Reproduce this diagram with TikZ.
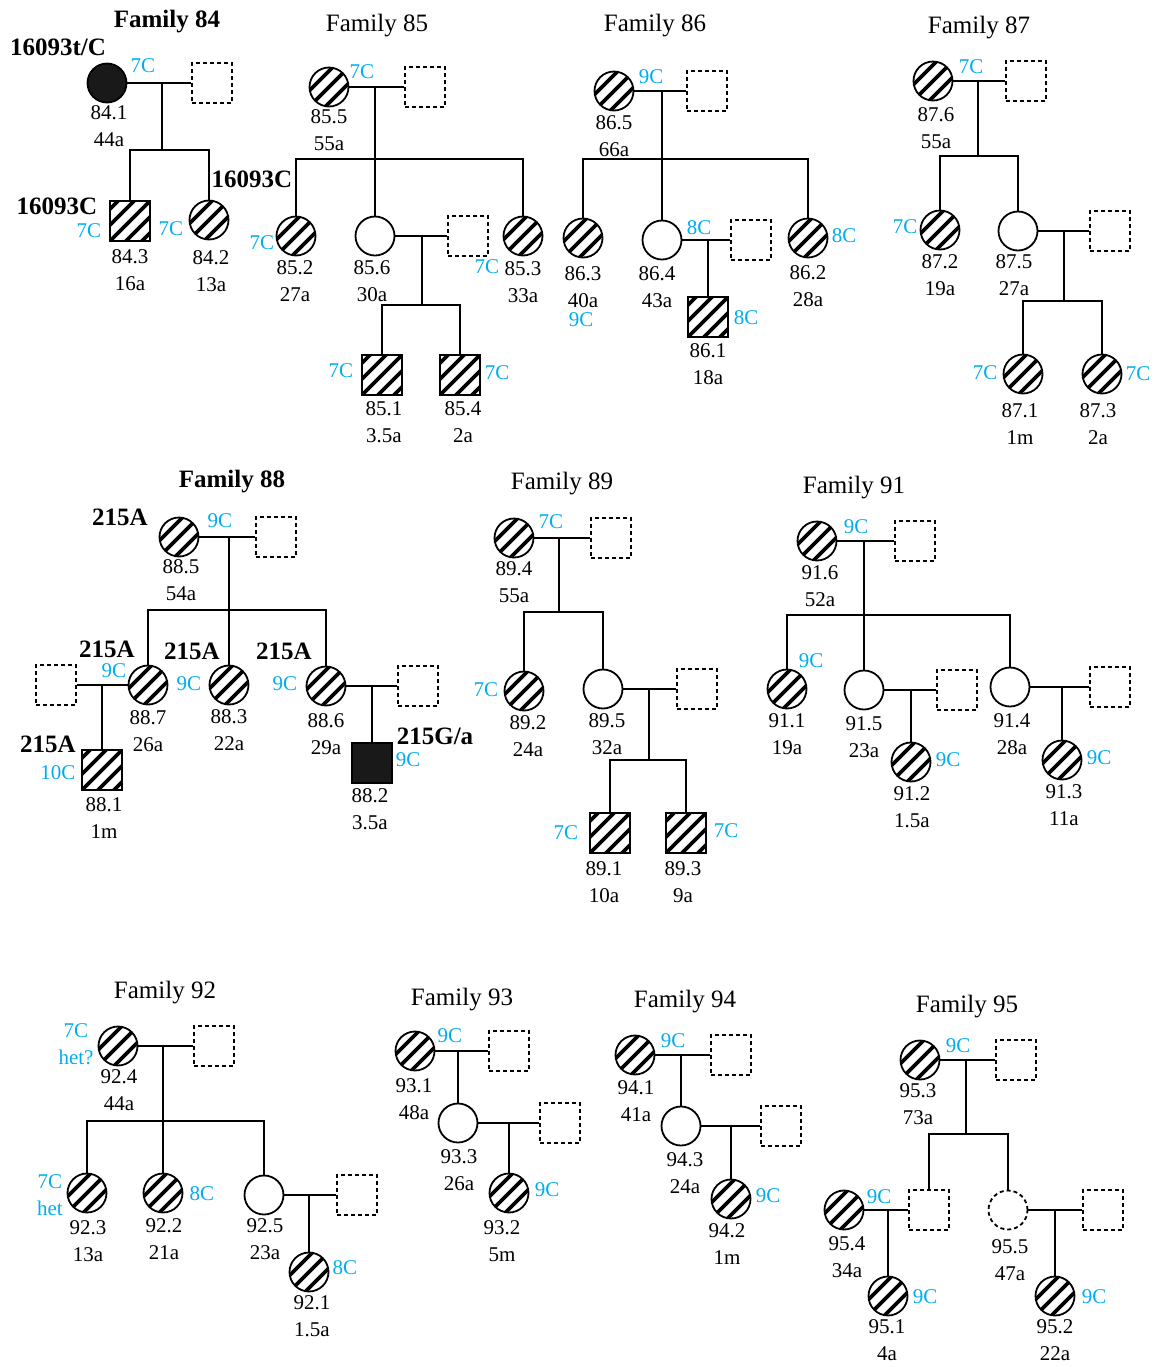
\documentclass[tikz,border=0pt]{standalone}
\usepackage{fontspec}
\setmainfont{Liberation Serif}
\usetikzlibrary{positioning}
\definecolor{gblue}{RGB}{0,174,239}
\tikzset{
	ind/.style={draw, inner sep=0pt},
	fem/.style={ind, circle, minimum size=19.5pt},
	mal/.style={ind, rectangle, minimum size=20pt},
	hatch/.style={path picture={
			\foreach \k in {-3,...,3}
			\draw[line width=1.8pt, solid] ([shift={(\k*8pt-20pt,-20pt)}]path picture bounding box.center) -- ++(40pt,40pt);
	}},
	afem/.style={fem, hatch},
	amal/.style={mal, hatch},
	bfem/.style={fem, fill=black!90},
	bmal/.style={mal, fill=black!90},
	ext/.style={mal, line width=0.9pt, dash pattern=on 2pt off 1.5pt},
	extf/.style={fem, line width=0.9pt, dash pattern=on 2pt off 1.5pt},
	idl/.style={font=\fontsize{10.5}{13.5}\selectfont, align=center, inner sep=0pt},
	gl/.style={text=gblue, font=\fontsize{10.5}{13.5}\selectfont, align=center, inner sep=0pt},
	mut/.style={font=\fontsize{12.5}{14}\selectfont\bfseries, inner sep=0pt},
	fam/.style={font=\fontsize{12.5}{14}\selectfont, inner sep=0pt}
}
\begin{document}
\begin{tikzpicture}[x=0.5pt, y=-0.5pt, line width=0.9pt]
	\useasboundingbox (0,0) rectangle (1158,1367);
	
	\node[mut] (f84) at (167,22) {Family 84};
	\node[mut] (g841) at (58,47) {16093t/C};
	\node[bfem] (p841) at (107,83) {};
	\node[ext] (u84) at (212,83) {};
	\node[gl] (c841) at (143,66) {7C};
	\node[idl, below=0.5pt of p841, xshift=1pt] (l841) {84.1\\44a};
	\coordinate (m84) at (162,83);
	\coordinate (s84) at (162,150);
	\node[amal] (p843) at (130,221) {};
	\node[afem] (p842) at (209,220) {};
	\node[mut] (g843) at (57,206) {16093C};
	\node[gl] (c843) at (89,231) {7C};
	\node[gl] (c842) at (171,229) {7C};
	\node[mut] (g842) at (252,179) {16093C};
	\node[idl, below=3.5pt of p843] (l843) {84.3\\16a};
	\node[idl, below=4.5pt of p842, xshift=1pt] (l842) {84.2\\13a};
	\draw (p841) -- (u84);
	\draw (m84) -- (s84);
	\draw (p843.north) |- (s84) -| (p842.north);
	
	\node[fam] (f85) at (377,26) {Family 85};
	\node[afem] (p855) at (329,87) {};
	\node[ext] (u85) at (425,87) {};
	\node[gl] (c855) at (362,72) {7C};
	\node[idl, below=0.5pt of p855] (l855) {85.5\\55a};
	\coordinate (m85) at (375,87);
	\coordinate (s85) at (375,159);
	\node[afem] (p852) at (296,236) {};
	\node[fem] (p856) at (375,236) {};
	\node[afem] (p853) at (523,236) {};
	\node[gl] (c852) at (262,243) {7C};
	\node[gl] (c853) at (487,267) {7C};
	\node[idl, below=1.5pt of p852, xshift=-0.5pt] (l852) {85.2\\27a};
	\node[idl, below=1.5pt of p856, xshift=-1.5pt] (l856) {85.6\\30a};
	\node[idl, below=2pt of p853] (l853) {85.3\\33a};
	\node[ext] (u856) at (468,236) {};
	\coordinate (m856) at (422,236);
	\coordinate (s856) at (422,305);
	\node[amal] (p851) at (382,375) {};
	\node[amal] (p854) at (460,375) {};
	\node[gl] (c851) at (341,371) {7C};
	\node[gl] (c854) at (497,373) {7C};
	\node[idl, below=2.5pt of p851, xshift=1pt] (l851) {85.1\\3.5a};
	\node[idl, below=2.5pt of p854, xshift=1.5pt] (l854) {85.4\\2a};
	\draw (p855) -- (u85);
	\draw (m85) -- (p856);
	\draw (p852.north) |- (s85) -| (p853.north);
	\draw (p856) -- (u856);
	\draw (m856) -- (s856);
	\draw (p851.north) |- (s856) -| (p854.north);
	
	\node[fam] (f86) at (655,26) {Family 86};
	\node[afem] (p865) at (614,91) {};
	\node[ext] (u86) at (707,91) {};
	\node[gl] (c865) at (651,77) {9C};
	\node[idl, below=1.5pt of p865] (l865) {86.5\\66a};
	\coordinate (m86) at (662,91);
	\coordinate (s86) at (662,159);
	\node[afem] (p863) at (583,238) {};
	\node[fem] (p864) at (662,240) {};
	\node[afem] (p862) at (808,238) {};
	\node[gl] (c862) at (844,236) {8C};
	\node[idl, below=3.5pt of p863] (l863) {86.3\\40a};
	\node[gl] (c863) at (581,320) {9C};
	\node[idl, below=2.5pt of p864, xshift=-2.5pt] (l864) {86.4\\43a};
	\node[idl, below=3pt of p862] (l862) {86.2\\28a};
	\node[ext] (u864) at (751,240) {};
	\node[gl] (c864) at (699,228) {8C};
	\coordinate (m864) at (708,240);
	\node[amal] (p861) at (708,317) {};
	\node[gl] (c861) at (746,318) {8C};
	\node[idl, below=2.5pt of p861] (l861) {86.1\\18a};
	\draw (p865) -- (u86);
	\draw (m86) -- (p864);
	\draw (p863.north) |- (s86) -| (p862.north);
	\draw (p864) -- (u864);
	\draw (m864) -- (p861);
	
	\node[fam] (f87) at (979,28) {Family 87};
	\node[afem] (p876) at (933,81) {};
	\node[ext] (u87) at (1026,81) {};
	\node[gl] (c876) at (971,67) {7C};
	\node[idl, below=2.5pt of p876, xshift=1.5pt] (l876) {87.6\\55a};
	\coordinate (m87) at (978,81);
	\coordinate (s87) at (978,156);
	\node[afem] (p872) at (940,230) {};
	\node[fem] (p875) at (1018,231) {};
	\node[gl] (c872) at (905,227) {7C};
	\node[idl, below=1.5pt of p872] (l872) {87.2\\19a};
	\node[idl, below=1pt of p875, xshift=-2pt] (l875) {87.5\\27a};
	\node[ext] (u875) at (1110,231) {};
	\coordinate (m875) at (1064,231);
	\coordinate (s875) at (1064,301);
	\node[afem] (p871) at (1023,374) {};
	\node[afem] (p873) at (1102,374) {};
	\node[gl] (c871) at (985,373) {7C};
	\node[gl] (c873) at (1138,374) {7C};
	\node[idl, below=4pt of p871, xshift=-1.5pt] (l871) {87.1\\1m};
	\node[idl, below=4pt of p873, xshift=-2pt] (l873) {87.3\\2a};
	\draw (p876) -- (u87);
	\draw (m87) -- (s87);
	\draw (p872.north) |- (s87) -| (p875.north);
	\draw (p875) -- (u875);
	\draw (m875) -- (s875);
	\draw (p871.north) |- (s875) -| (p873.north);
	
	\node[mut] (f88) at (232,482) {Family 88};
	\node[mut] (g885) at (120,517) {215A};
	\node[afem] (p885) at (179,537) {};
	\node[ext] (u88) at (276,537) {};
	\node[gl] (c885) at (220,521) {9C};
	\node[idl, below=0.5pt of p885, xshift=1pt] (l885) {88.5\\54a};
	\coordinate (m88) at (229,537);
	\coordinate (s88) at (229,610);
	\node[afem] (p887) at (148,685) {};
	\node[afem] (p883) at (229,685) {};
	\node[afem] (p886) at (326,686) {};
	\node[mut] (g887) at (107,649) {215A};
	\node[mut] (g883) at (192,651) {215A};
	\node[mut] (g886) at (284,651) {215A};
	\node[gl] (c887) at (114,671) {9C};
	\node[gl] (c883) at (189,684) {9C};
	\node[gl] (c886) at (285,684) {9C};
	\node[idl, below=2pt of p887] (l887) {88.7\\26a};
	\node[idl, below=1.5pt of p883] (l883) {88.3\\22a};
	\node[idl, below=3pt of p886] (l886) {88.6\\29a};
	\node[ext] (u887) at (56,685) {};
	\coordinate (m887) at (102,685);
	\node[amal] (p881) at (102,770) {};
	\node[mut] (g881) at (48,744) {215A};
	\node[gl] (c881) at (58,773) {10C};
	\node[idl, below=3pt of p881, xshift=1pt] (l881) {88.1\\1m};
	\node[ext] (u886) at (418,686) {};
	\coordinate (m886) at (372,686);
	\node[bmal] (p882) at (372,763) {};
	\node[mut] (g882) at (435,736) {215G/a};
	\node[gl] (c882) at (408,760) {9C};
	\node[idl, below=2pt of p882, xshift=-1pt] (l882) {88.2\\3.5a};
	\draw (p885) -- (u88);
	\draw (m88) -- (p883);
	\draw (p887.north) |- (s88) -| (p886.north);
	\draw (u887) -- (p887);
	\draw (m887) -- (p881);
	\draw (p886) -- (u886);
	\draw (m886) -- (p882);
	
	\node[fam] (f89) at (562,484) {Family 89};
	\node[afem] (p894) at (514,538) {};
	\node[ext] (u89) at (611,538) {};
	\node[gl] (c894) at (551,522) {7C};
	\node[idl, below=1pt of p894] (l894) {89.4\\55a};
	\coordinate (m89) at (559,538);
	\coordinate (s89) at (559,612);
	\node[afem] (p892) at (524,691) {};
	\node[fem] (p895) at (603,689) {};
	\node[gl] (c892) at (486,690) {7C};
	\node[idl, below=1.5pt of p892, xshift=2pt] (l892) {89.2\\24a};
	\node[idl, below=1.5pt of p895, xshift=2pt] (l895) {89.5\\32a};
	\node[ext] (u895) at (697,689) {};
	\coordinate (m895) at (649,689);
	\coordinate (s895) at (649,760);
	\node[amal] (p891) at (610,833) {};
	\node[amal] (p893) at (686,833) {};
	\node[gl] (c891) at (566,833) {7C};
	\node[gl] (c893) at (726,831) {7C};
	\node[idl, below=3.5pt of p891, xshift=-3pt] (l891) {89.1\\10a};
	\node[idl, below=3.5pt of p893, xshift=-1.5pt] (l893) {89.3\\9a};
	\draw (p894) -- (u89);
	\draw (m89) -- (s89);
	\draw (p892.north) |- (s89) -| (p895.north);
	\draw (p895) -- (u895);
	\draw (m895) -- (s895);
	\draw (p891.north) |- (s895) -| (p893.north);
	
	\node[fam] (f91) at (854,488) {Family 91};
	\node[afem] (p916) at (817,541) {};
	\node[ext] (u91) at (915,541) {};
	\node[gl] (c916) at (856,527) {9C};
	\node[idl, below=1.5pt of p916, xshift=1.5pt] (l916) {91.6\\52a};
	\coordinate (m91) at (864,541);
	\coordinate (s91) at (864,615);
	\node[afem] (p911) at (787,689) {};
	\node[fem] (p915) at (864,690) {};
	\node[fem] (p914) at (1010,687) {};
	\node[gl] (c911) at (811,661) {9C};
	\node[idl, below=1.5pt of p911] (l911) {91.1\\19a};
	\node[idl, below=2.5pt of p915] (l915) {91.5\\23a};
	\node[idl, below=2.5pt of p914, xshift=1pt] (l914) {91.4\\28a};
	\node[ext] (u915) at (957,690) {};
	\coordinate (m915) at (911,690);
	\node[afem] (p912) at (911,762) {};
	\node[gl] (c912) at (948,760) {9C};
	\node[idl, below=1.5pt of p912, xshift=0.5pt] (l912) {91.2\\1.5a};
	\node[ext] (u914) at (1110,687) {};
	\coordinate (m914) at (1062,687);
	\node[afem] (p913) at (1062,760) {};
	\node[gl] (c913) at (1099,758) {9C};
	\node[idl, below=1.5pt of p913, xshift=1pt] (l913) {91.3\\11a};
	\draw (p916) -- (u91);
	\draw (m91) -- (p915);
	\draw (p911.north) |- (s91) -| (p914.north);
	\draw (p915) -- (u915);
	\draw (m915) -- (p912);
	\draw (p914) -- (u914);
	\draw (m914) -- (p913);
	
	\node[fam] (f92) at (165,993) {Family 92};
	\node[afem] (p924) at (118,1046) {};
	\node[ext] (u92) at (214,1046) {};
	\node[gl] (c924) at (76,1044) {7C\\het?};
	\node[idl, below=1pt of p924, xshift=0.5pt] (l924) {92.4\\44a};
	\coordinate (m92) at (163,1046);
	\coordinate (s92) at (163,1121);
	\node[afem] (p923) at (87,1193) {};
	\node[afem] (p922) at (163,1193) {};
	\node[fem] (p925) at (264,1195) {};
	\node[gl] (c923) at (50,1195) {7C\\het};
	\node[gl] (c922) at (202,1194) {8C};
	\node[idl, below=3pt of p923, xshift=0.5pt] (l923) {92.3\\13a};
	\node[idl, below=2pt of p922, xshift=0.5pt] (l922) {92.2\\21a};
	\node[idl, below=1pt of p925, xshift=0.5pt] (l925) {92.5\\23a};
	\node[ext] (u925) at (357,1195) {};
	\coordinate (m925) at (309,1195);
	\node[afem] (p921) at (309,1272) {};
	\node[gl] (c921) at (345,1268) {8C};
	\node[idl, below=1pt of p921, xshift=1.5pt] (l921) {92.1\\1.5a};
	\draw (p924) -- (u92);
	\draw (m92) -- (p922);
	\draw (p923.north) |- (s92) -| (p925.north);
	\draw (p925) -- (u925);
	\draw (m925) -- (p921);
	
	\node[fam] (f93) at (462,1000) {Family 93};
	\node[afem] (p931) at (415,1051) {};
	\node[ext] (u93) at (509,1051) {};
	\node[gl] (c931) at (450,1036) {9C};
	\node[idl, below=3pt of p931, xshift=-0.5pt] (l931) {93.1\\48a};
	\coordinate (m93) at (458,1051);
	\node[fem] (p933) at (458,1123) {};
	\node[idl, below=2.5pt of p933, xshift=0.5pt] (l933) {93.3\\26a};
	\node[ext] (u933) at (560,1123) {};
	\coordinate (m933) at (509,1123);
	\node[afem] (p932) at (509,1193) {};
	\node[gl] (c932) at (547,1190) {9C};
	\node[idl, below=3pt of p932, xshift=-3.5pt] (l932) {93.2\\5m};
	\draw (p931) -- (u93);
	\draw (m93) -- (p933);
	\draw (p933) -- (u933);
	\draw (m933) -- (p932);
	
	\node[fam] (f94) at (685,1002) {Family 94};
	\node[afem] (p941) at (635,1055) {};
	\node[ext] (u94) at (731,1055) {};
	\node[gl] (c941) at (673,1041) {9C};
	\node[idl, below=2pt of p941, xshift=0.5pt] (l941) {94.1\\41a};
	\coordinate (m94) at (681,1055);
	\node[fem] (p943) at (681,1126) {};
	\node[idl, below=2.5pt of p943, xshift=2pt] (l943) {94.3\\24a};
	\node[ext] (u943) at (781,1126) {};
	\coordinate (m943) at (731,1126);
	\node[afem] (p942) at (731,1199) {};
	\node[gl] (c942) at (768,1196) {9C};
	\node[idl, below=1.5pt of p942, xshift=-2pt] (l942) {94.2\\1m};
	\draw (p941) -- (u94);
	\draw (m94) -- (p943);
	\draw (p943) -- (u943);
	\draw (m943) -- (p942);
	
	\node[fam] (f95) at (967,1007) {Family 95};
	\node[afem] (p953) at (920,1060) {};
	\node[ext] (u95) at (1016,1060) {};
	\node[gl] (c953) at (958,1046) {9C};
	\node[idl, below=1pt of p953, xshift=-1pt] (l953) {95.3\\73a};
	\coordinate (m95) at (966,1060);
	\coordinate (s95) at (966,1134);
	\node[ext] (x95) at (929,1210) {};
	\node[extf] (p955) at (1008,1210) {};
	\node[idl, below=4pt of p955, xshift=1pt] (l955) {95.5\\47a};
	\node[afem] (p954) at (844,1210) {};
	\node[gl] (c954) at (879,1197) {9C};
	\node[idl, below=2.5pt of p954, xshift=1.5pt] (l954) {95.4\\34a};
	\coordinate (m954) at (888,1210);
	\node[afem] (p951) at (888,1296) {};
	\node[gl] (c951) at (925,1297) {9C};
	\node[idl, below=1pt of p951, xshift=-0.5pt] (l951) {95.1\\4a};
	\node[ext] (u955) at (1103,1210) {};
	\coordinate (m955) at (1055,1210);
	\node[afem] (p952) at (1055,1296) {};
	\node[gl] (c952) at (1094,1297) {9C};
	\node[idl, below=1pt of p952] (l952) {95.2\\22a};
	\draw (p953) -- (u95);
	\draw (m95) -- (s95);
	\draw (x95.north) |- (s95) -| (p955.north);
	\draw (p954) -- (x95);
	\draw (m954) -- (p951);
	\draw (p955) -- (u955);
	\draw (m955) -- (p952);
	
\end{tikzpicture}
\end{document}
